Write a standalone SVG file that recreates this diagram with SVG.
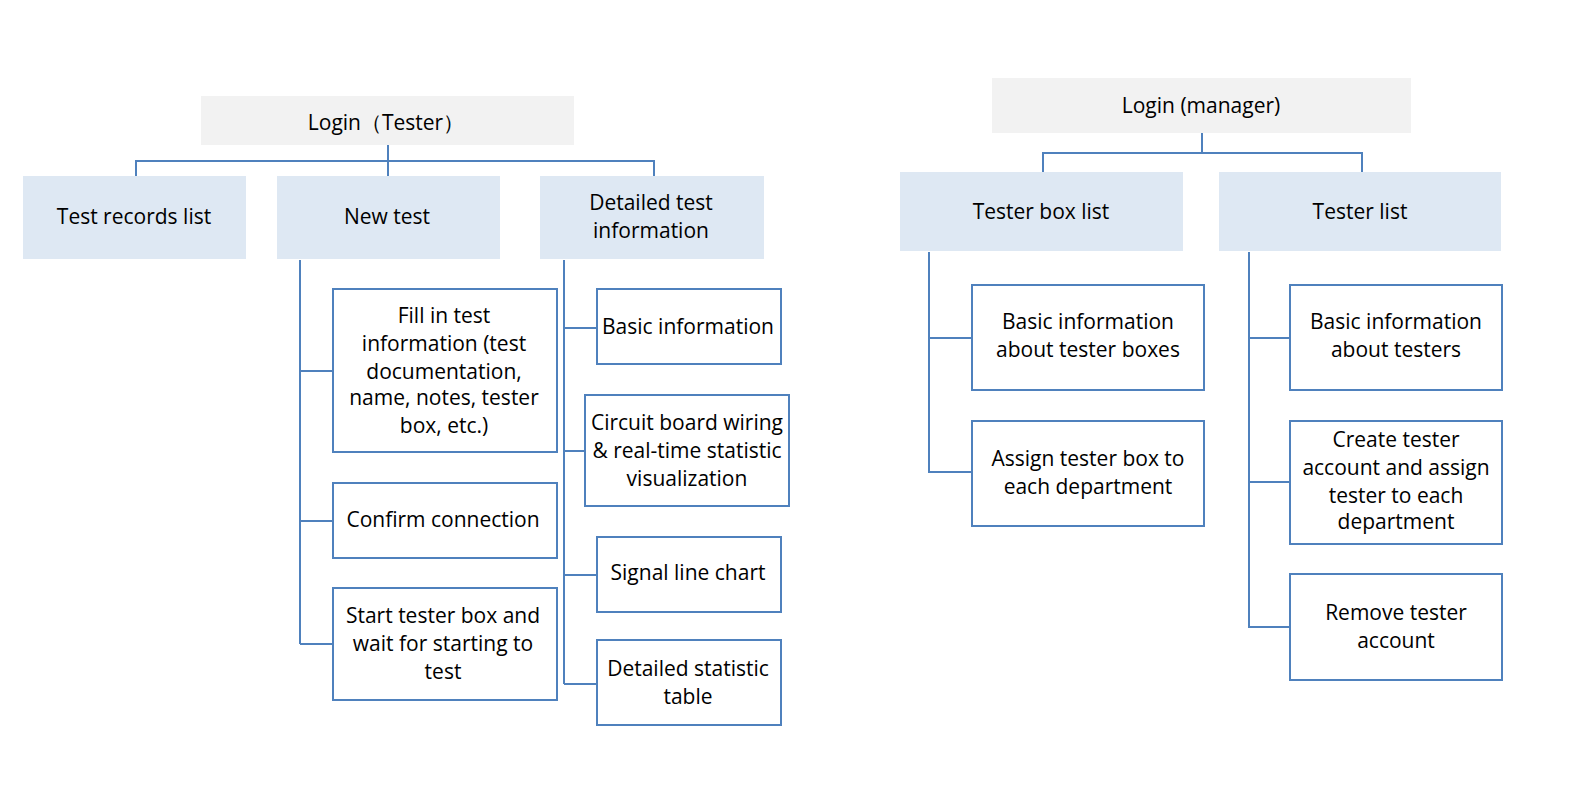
<svg xmlns="http://www.w3.org/2000/svg" width="1570" height="788" viewBox="0 0 1570 788">
<style>
text{font-family:"Open Sans","Liberation Sans",sans-serif;font-size:21px;fill:#000;text-anchor:middle;dominant-baseline:central}
.top{fill:#f2f2f2}
.mid{fill:#dee8f3}
.leaf{fill:#fff;stroke:#4f81bd;stroke-width:2}
#connectors path{fill:none;stroke:#4f81bd;stroke-width:2}
</style>
<rect width="1570" height="788" fill="#fff"/>
<g id="connectors">
<path d="M388 145V161M136 176V161H654V176M388 161V176"/>
<path d="M300 260V644M300 371H333M300 521H333M300 644H333"/>
<path d="M564 260V684M564 328H597M564 451H585M564 575H597M564 684H597"/>
<path d="M1202 133V153M1043 172V153H1362V172"/>
<path d="M929 252V472H972M929 338H972"/>
<path d="M1249 252V627H1290M1249 338H1290M1249 482H1290"/>
</g>
<g id="login-tester"><rect class="top" x="201" y="96" width="373" height="49"/><text x="386" y="122">Login（Tester）</text></g>
<g id="test-records"><rect class="mid" x="23" y="176" width="223" height="83"/><text x="134" y="216">Test records list</text></g>
<g id="new-test"><rect class="mid" x="277" y="176" width="223" height="83"/><text x="387" y="216">New test</text></g>
<g id="detailed-test"><rect class="mid" x="540" y="176" width="224" height="83"/><text x="651" y="202">Detailed test</text><text x="651" y="230">information</text></g>
<g id="fill-in"><rect class="leaf" x="333" y="289" width="224" height="163"/><text x="444" y="315">Fill in test</text><text x="444" y="343">information (test</text><text x="444" y="371">documentation,</text><text x="444" y="397">name, notes, tester</text><text x="444" y="425">box, etc.)</text></g>
<g id="confirm"><rect class="leaf" x="333" y="483" width="224" height="75"/><text x="443" y="519">Confirm connection</text></g>
<g id="start"><rect class="leaf" x="333" y="588" width="224" height="112"/><text x="443" y="615">Start tester box and</text><text x="443" y="643">wait for starting to</text><text x="443" y="671">test</text></g>
<g id="basic-info"><rect class="leaf" x="597" y="289" width="184" height="75"/><text x="688" y="326">Basic information</text></g>
<g id="circuit"><rect class="leaf" x="585" y="395" width="204" height="111"/><text x="687" y="422">Circuit board wiring</text><text x="687" y="450">&amp; real-time statistic</text><text x="687" y="478">visualization</text></g>
<g id="signal"><rect class="leaf" x="597" y="537" width="184" height="75"/><text x="688" y="572">Signal line chart</text></g>
<g id="stat-table"><rect class="leaf" x="597" y="640" width="184" height="85"/><text x="688" y="668">Detailed statistic</text><text x="688" y="696">table</text></g>
<g id="login-manager"><rect class="top" x="992" y="78" width="419" height="55"/><text x="1201" y="105">Login (manager)</text></g>
<g id="tester-box-list"><rect class="mid" x="900" y="172" width="283" height="79"/><text x="1041" y="211">Tester box list</text></g>
<g id="tester-list"><rect class="mid" x="1219" y="172" width="282" height="79"/><text x="1360" y="211">Tester list</text></g>
<g id="basic-boxes"><rect class="leaf" x="972" y="285" width="232" height="105"/><text x="1088" y="321">Basic information</text><text x="1088" y="349">about tester boxes</text></g>
<g id="assign-box"><rect class="leaf" x="972" y="421" width="232" height="105"/><text x="1088" y="458">Assign tester box to</text><text x="1088" y="486">each department</text></g>
<g id="basic-testers"><rect class="leaf" x="1290" y="285" width="212" height="105"/><text x="1396" y="321">Basic information</text><text x="1396" y="349">about testers</text></g>
<g id="create-tester"><rect class="leaf" x="1290" y="421" width="212" height="123"/><text x="1396" y="439">Create tester</text><text x="1396" y="467">account and assign</text><text x="1396" y="495">tester to each</text><text x="1396" y="521">department</text></g>
<g id="remove-tester"><rect class="leaf" x="1290" y="574" width="212" height="106"/><text x="1396" y="612">Remove tester</text><text x="1396" y="640">account</text></g>
</svg>
